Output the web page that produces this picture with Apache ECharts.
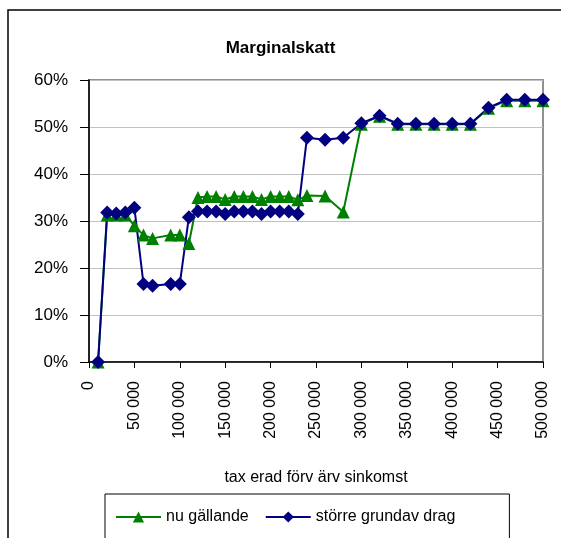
<!DOCTYPE html>
<html>
    <head>
        <meta charset="utf-8">
        <title>Marginalskatt</title>
        <script src="https://cdn.jsdelivr.net/npm/echarts@6/dist/echarts.min.js"></script>
    </head>
    <body style="margin:0;background:#fff;">
        <div id="main" style="width:561px;height:538px;"></div>

        <script type="text/javascript">
            // taxerad förvärvsinkomst (kr)
            var inkomst = [10000, 20000, 30000, 40000, 50000, 60000, 70000, 90000, 100000, 110000,
                120000, 130000, 140000, 150000, 160000, 170000, 180000, 190000, 200000, 210000,
                220000, 230000, 240000, 260000, 280000, 300000, 320000, 340000, 360000, 380000,
                400000, 420000, 440000, 460000, 480000, 500000];
            // marginalskatt i procent
            var nuGallande = [0, 31.3, 31.3, 31.3, 29, 27, 26.3, 27, 27, 25.2,
                35, 35.2, 35.2, 34.6, 35.2, 35.2, 35.2, 34.6, 35.2, 35.2,
                35.2, 34.5, 35.4, 35.3, 31.9, 50.6, 52.3, 50.6, 50.6, 50.6,
                50.6, 50.6, 54, 55.6, 55.6, 55.6];
            var storreGrundavdrag = [0, 31.8, 31.6, 31.8, 32.8, 16.6, 16.2, 16.6, 16.6, 30.8,
                32.1, 32, 32, 31.5, 32, 32, 32, 31.5, 32, 32,
                32, 31.5, 47.7, 47.3, 47.7, 50.8, 52.4, 50.7, 50.7, 50.7,
                50.7, 50.7, 54.1, 55.8, 55.8, 55.8];
            var serieNamn = ['nu gällande', 'större grundav drag'];

            function par(ys) {
                var out = [];
                for (var i = 0; i < inkomst.length; i++) {
                    out.push([inkomst[i], ys[i]]);
                }
                return out;
            }

            var font = 'Liberation Sans';
            var myChart = echarts.init(document.getElementById('main'));
            myChart.setOption({
                animation: false,
                textStyle: { fontFamily: font },
                title: {
                    text: 'Marginalskatt',
                    left: 'center',
                    top: 35,
                    textStyle: { fontSize: 17, fontWeight: 'bold', color: '#000', fontFamily: font }
                },
                graphic: [{
                    type: 'rect',
                    shape: { x: 8, y: 10, width: 700, height: 700 },
                    style: { fill: 'none', stroke: '#000', lineWidth: 1.5 },
                    silent: true
                }],
                legend: {
                    data: serieNamn,
                    left: 105,
                    top: 494,
                    orient: 'horizontal',
                    padding: [15, 54, 30, 10],
                    itemGap: 16,
                    itemWidth: 45,
                    itemHeight: 14,
                    borderColor: '#000',
                    borderWidth: 1,
                    textStyle: { fontSize: 16, color: '#000', fontFamily: font }
                },
                grid: {
                    left: 89,
                    right: 18,
                    top: 80,
                    bottom: 176,
                    show: true,
                    borderColor: '#909090',
                    borderWidth: 2
                },
                xAxis: {
                    type: 'value',
                    min: 0,
                    max: 500000,
                    interval: 50000,
                    name: 'tax erad förv ärv sinkomst',
                    nameLocation: 'middle',
                    nameGap: 108,
                    nameTextStyle: { fontSize: 16, color: '#000', fontFamily: font },
                    axisLine: { lineStyle: { color: '#000', width: 1.5 } },
                    axisTick: { show: true, length: 6, lineStyle: { color: '#000' } },
                    axisLabel: {
                        rotate: 90,
                        margin: 19,
                        fontSize: 16,
                        color: '#000',
                        formatter: function (v) {
                            return String(v).replace(/\B(?=(\d{3})+(?!\d))/g, ' ');
                        }
                    },
                    splitLine: { show: false }
                },
                yAxis: {
                    type: 'value',
                    min: 0,
                    max: 60,
                    interval: 10,
                    axisLine: { show: true, lineStyle: { color: '#000', width: 1.5 } },
                    axisTick: { show: true, length: 9, lineStyle: { color: '#000' } },
                    axisLabel: { formatter: '{value}%', margin: 21, fontSize: 17, color: '#000' },
                    splitLine: { lineStyle: { color: '#c0c0c0', width: 1 } }
                },
                series: [{
                    name: serieNamn[0],
                    type: 'line',
                    data: par(nuGallande),
                    symbol: 'triangle',
                    symbolSize: 13,
                    color: '#008000',
                    lineStyle: { width: 2, color: '#008000' },
                    itemStyle: { color: '#008000' }
                }, {
                    name: serieNamn[1],
                    type: 'line',
                    data: par(storreGrundavdrag),
                    symbol: 'diamond',
                    symbolSize: 14,
                    color: '#000080',
                    lineStyle: { width: 2, color: '#000080' },
                    itemStyle: { color: '#000080' }
                }]
            });
        </script>
    </body>
</html>
